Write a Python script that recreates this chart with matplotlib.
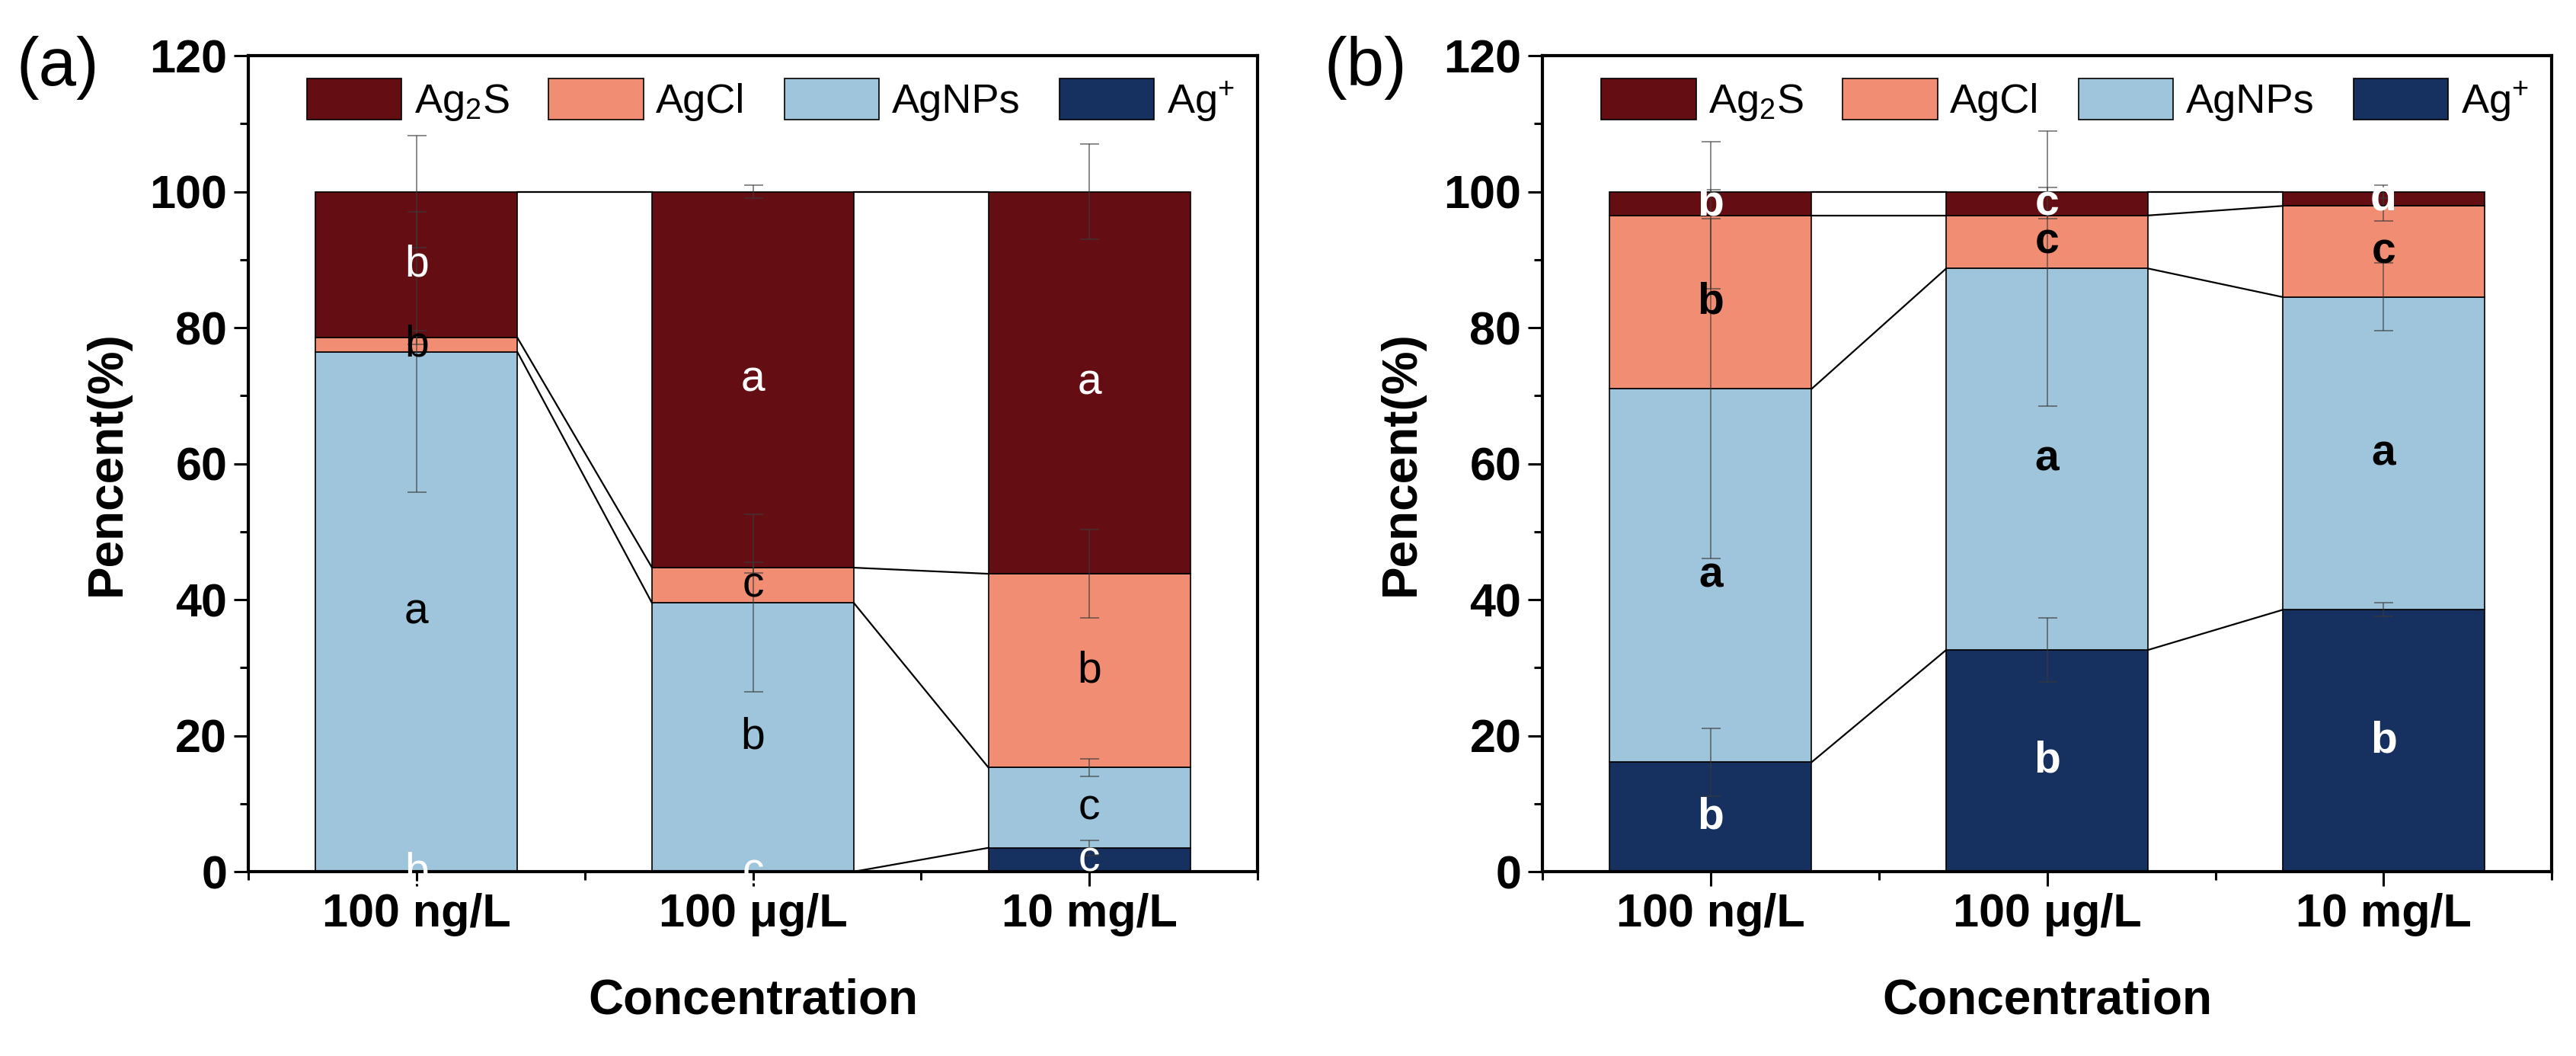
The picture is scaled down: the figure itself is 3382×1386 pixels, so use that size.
import matplotlib
matplotlib.use('Agg')
import matplotlib.pyplot as plt
from matplotlib.ticker import MultipleLocator
import numpy as np

plt.rcParams['font.family'] = ['Liberation Sans', 'DejaVu Sans']
plt.rcParams['mathtext.fontset'] = 'custom'
plt.rcParams['mathtext.rm'] = 'Liberation Sans'
plt.rcParams['mathtext.it'] = 'Liberation Sans:italic'
plt.rcParams['mathtext.bf'] = 'Liberation Sans:bold'

# Data
categories = ['100 ng/L', '100 \u03bcg/L', '10 mg/L']
species = ['Ag$^{+}$', 'AgNPs', 'AgCl', 'Ag$_2$S']   # bottom -> top

# panel (a)
ag_plus_a = [0.0, 0.0, 3.5]
agnps_a = [76.4, 39.5, 11.8]
agcl_a = [2.1, 5.2, 28.5]
ag2s_a = [21.5, 55.3, 56.2]
err_ag_plus_a = [0.0, 0.0, 1.1]
err_agnps_a = [20.6, 13.0, 1.25]
err_agcl_a = [1.0, 0.8, 6.5]
err_ag2s_a = [8.2, 1.0, 7.0]
lab_ag_plus_a = ['b', 'c', 'c']
lab_agnps_a = ['a', 'b', 'c']
lab_agcl_a = ['b', 'c', 'b']
lab_ag2s_a = ['b', 'a', 'a']

# panel (b)
ag_plus_b = [16.1, 32.6, 38.5]
agnps_b = [54.9, 56.1, 46.0]
agcl_b = [25.5, 7.8, 13.4]
ag2s_b = [3.5, 3.5, 2.1]
err_ag_plus_b = [5.0, 4.7, 1.0]
err_agnps_b = [25.0, 20.2, 5.0]
err_agcl_b = [10.8, 0.5, 2.2]
err_ag2s_b = [0.3, 0.6, 1.0]
lab_ag_plus_b = ['b', 'b', 'b']
lab_agnps_b = ['a', 'a', 'a']
lab_agcl_b = ['b', 'c', 'c']
lab_ag2s_b = ['b', 'c', 'd']

colors = ['#163060', '#9EC5DB', '#F08D72', '#640E14']
text_colors = ['white', 'black', 'black', 'white']

bar_w = 0.6


def draw_panel(ax, values, errors, labels, weight):
    x = np.arange(len(categories))
    bottom = np.zeros(len(categories))
    handles = []
    for k in range(4):
        vals = np.array(values[k])
        top = bottom + vals
        h = ax.bar(x, vals, width=bar_w, bottom=bottom, color=colors[k],
                   edgecolor='black', linewidth=1.2, label=species[k], zorder=2)
        handles.append(h)
        # connecting lines between bars
        for i in range(len(x) - 1):
            ax.plot([x[i] + bar_w / 2, x[i + 1] - bar_w / 2], [top[i], top[i + 1]],
                    color='black', lw=1.6, zorder=3)
        # error bars at the top of each segment
        err = np.array(errors[k])
        m = err > 0
        ax.errorbar(x[m], top[m], yerr=err[m], fmt='none', ecolor='#3a3a3a',
                    elinewidth=1.1, capsize=9, capthick=1.1, alpha=0.75, zorder=4)
        for i in range(len(x)):
            ax.text(x[i], bottom[i] + vals[i] / 2, labels[k][i], ha='center',
                    va='center', fontsize=41, fontweight=weight,
                    color=text_colors[k], zorder=5)
        bottom = top

    ax.set_xlim(-0.5, 2.5)
    ax.set_ylim(0, 120)
    ax.set_xticks(x)
    ax.set_xticklabels(categories)
    ax.set_xticks([-0.5, 0.5, 1.5, 2.5], minor=True)
    ax.yaxis.set_major_locator(MultipleLocator(20))
    ax.yaxis.set_minor_locator(MultipleLocator(10))
    ax.tick_params(which='major', direction='out', length=14, width=2.2,
                   labelsize=44, pad=6)
    ax.tick_params(which='minor', direction='out', length=8, width=2.2)
    for t in ax.get_xticklabels() + ax.get_yticklabels():
        t.set_fontweight('bold')
    for s in ax.spines.values():
        s.set_linewidth(3)

    ax.set_xlabel('Concentration', fontsize=46, fontweight='bold')
    ax.set_ylabel('Pencent(%)', fontsize=46, fontweight='bold')
    ax.xaxis.set_label_coords(0.5, -0.13)
    ax.yaxis.set_label_coords(-0.117, 0.5)

    ax.legend(handles[::-1], species[::-1], loc='upper left',
              bbox_to_anchor=(0.058, 0.972), ncol=4, frameon=False,
              fontsize=39, handlelength=2.3, handleheight=1.15,
              handletextpad=0.3, columnspacing=0.95, borderpad=0,
              borderaxespad=0)


fig = plt.figure(figsize=(33.82, 13.86), dpi=100)
ax1 = fig.add_axes([0.0964, 0.1746, 0.3918, 0.7727])
ax2 = fig.add_axes([0.5988, 0.1746, 0.3918, 0.7727])

draw_panel(ax1, [ag_plus_a, agnps_a, agcl_a, ag2s_a],
           [err_ag_plus_a, err_agnps_a, err_agcl_a, err_ag2s_a],
           [lab_ag_plus_a, lab_agnps_a, lab_agcl_a, lab_ag2s_a], 'normal')
draw_panel(ax2, [ag_plus_b, agnps_b, agcl_b, ag2s_b],
           [err_ag_plus_b, err_agnps_b, err_agcl_b, err_ag2s_b],
           [lab_ag_plus_b, lab_agnps_b, lab_agcl_b, lab_ag2s_b], 'bold')

fig.text(0.0065, 0.919, '(a)', fontsize=64, va='baseline', ha='left')
fig.text(0.514, 0.919, '(b)', fontsize=64, va='baseline', ha='left')

fig.savefig('out.png', dpi=100)
plt.close(fig)
